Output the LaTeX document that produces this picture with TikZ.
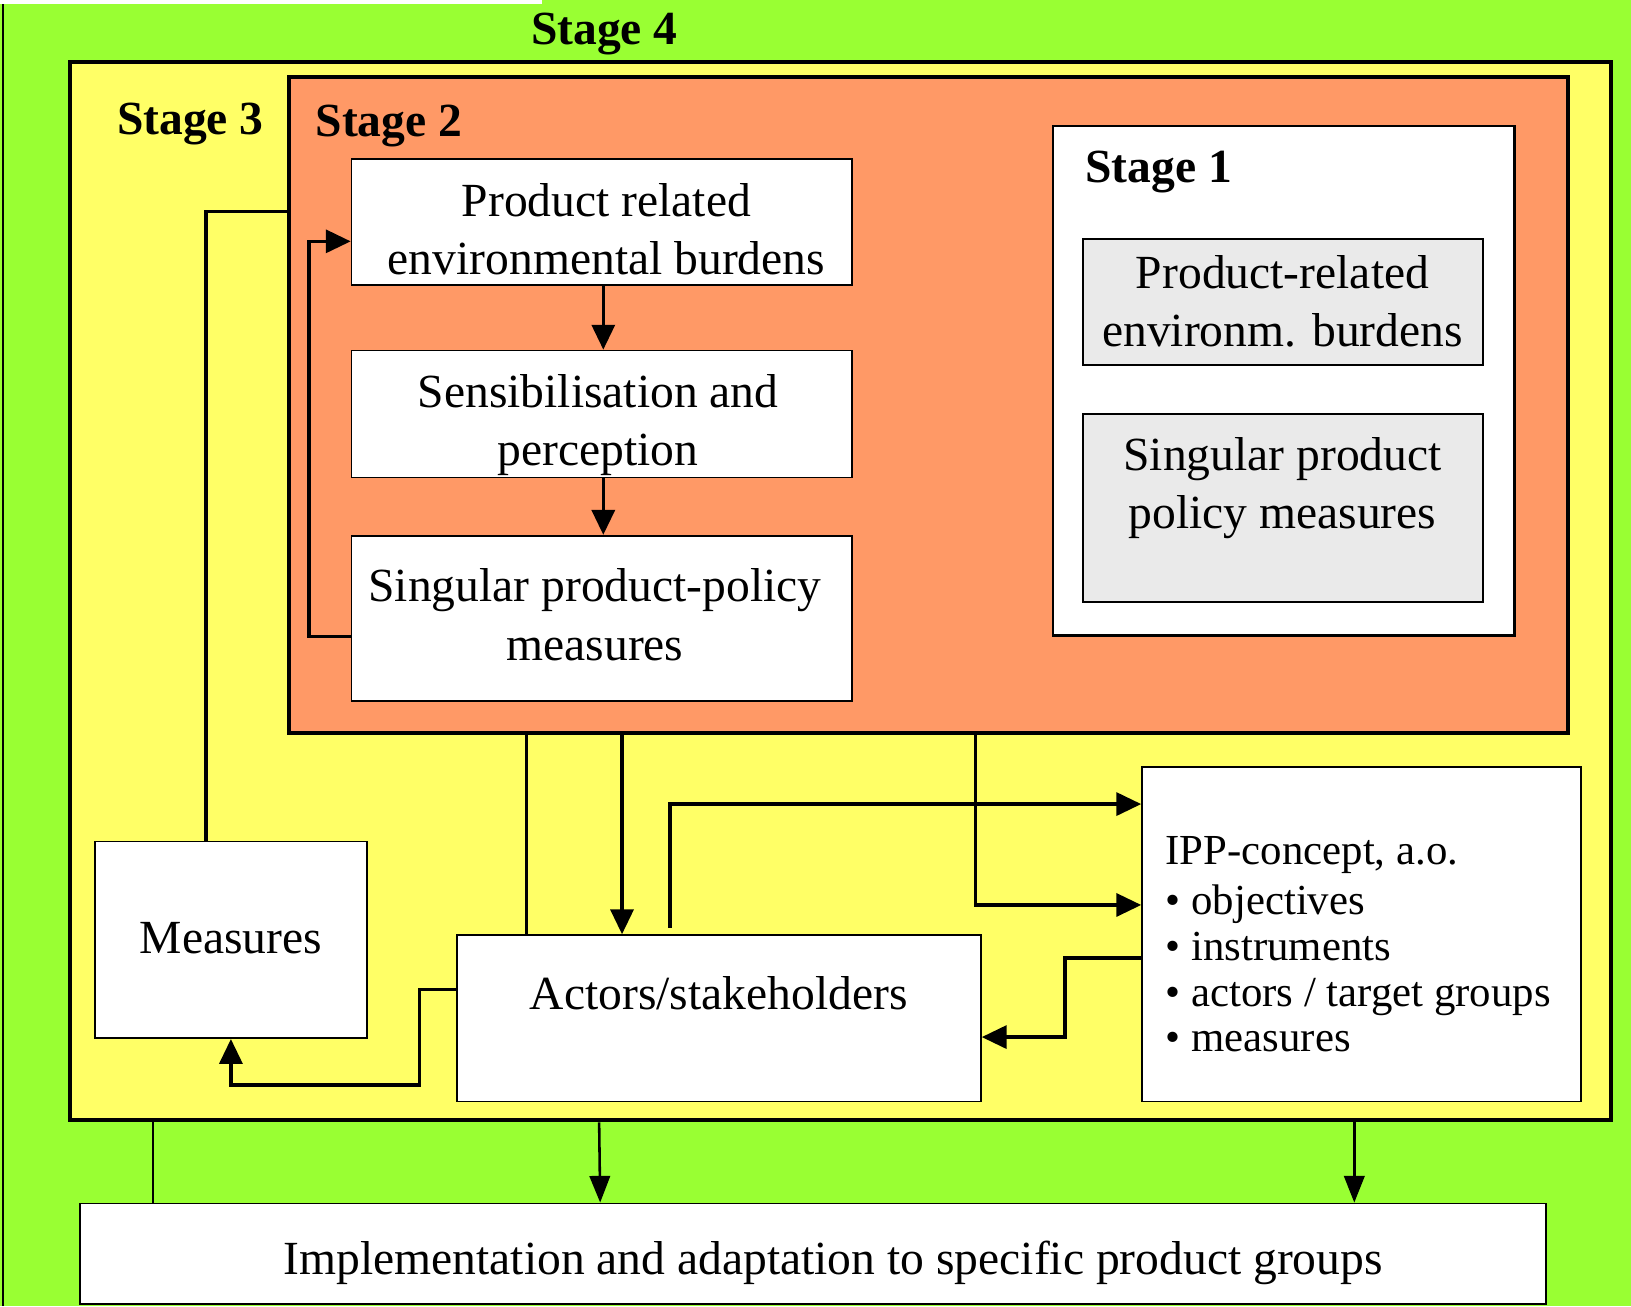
\documentclass[tikz,border=0pt]{standalone}
\usepackage{fontspec}
\setmainfont{Liberation Serif}
\usetikzlibrary{arrows.meta,fit,calc}
\definecolor{cgreen}{HTML}{99FF33}
\definecolor{cyellow}{HTML}{FFFF66}
\definecolor{corange}{HTML}{FF9966}
\definecolor{cgray}{HTML}{EAEAEA}
\begin{document}
\begin{tikzpicture}[x=0.01cm,y=-0.01cm,
  every node/.style={font=\fontsize{13pt}{15.9pt}\selectfont},
  stagebox/.style={draw=black, line width=1.1pt, inner sep=0pt},
  wbox/.style={draw=black, fill=white, line width=0.5pt, inner sep=0pt},
  gbox/.style={draw=black, fill=cgray, line width=0.5pt, inner sep=0pt},
  con/.style={draw=black, line width=0.9pt},
  arr/.style={con, -{Triangle[length=6.8pt,width=6.3pt]}},
  con2/.style={draw=black, line width=0.7pt},
  arr2/.style={con2, -{Triangle[length=7.3pt,width=5.6pt]}},
  stagelbl/.style={font=\fontsize{13pt}{15.9pt}\selectfont\bfseries, inner sep=0pt}
]
\useasboundingbox (0,0) rectangle (1568,1256);
\fill[cgreen] (0,0) rectangle (1568,1256);
\fill[white] (0,0) rectangle (521,4);
\draw[line width=0.6pt] (3,4) -- (3,1256);

% containers
\node[stagebox, fill=cyellow, fit={(67,60) (1549,1077)}] (S3) {};
\node[stagebox, fill=corange, fit={(278,74) (1507,705)}] (S2) {};
\node[wbox, line width=0.6pt, fit={(1012,121) (1456,611)}] (S1) {};

% stage 1 boxes
\node[gbox, fit={(1041,230) (1426,351)}] (G1) {};
\node[gbox, fit={(1041,398) (1426,579)}] (G2) {};
\node[align=center] (G1t) at (1233,290) {Product-related\\environm. burdens};
\node[align=center] (G2t) at (1233,469) {Singular product\\policy measures};

% stage 2 boxes
\node[wbox, fit={(338,153) (819,274)}] (A) {};
\node[wbox, fit={(338,337) (819,459)}] (B) {};
\node[wbox, fit={(338,515) (819,674)}] (C) {};
\node[align=center] (At) at (583,220) {Product related\\environmental burdens};
\node[align=center] (Bt) at (575,409) {Sensibilisation and\\perception};
\node[align=center] (Ct) at (572,591) {Singular product-policy\\measures};

% stage 3 boxes
\node[wbox, fit={(91,809) (353,998)}] (Meas) {};
\node[wbox, fit={(439,899) (943,1059)}] (Act) {};
\node[wbox, fit={(1098,737) (1520,1059)}] (IPP) {};
\node (Meast) at (222,902) {Measures};
\node (Actt) at (691,955) {Actors/stakeholders};
\node[align=left, anchor=west, inner sep=0pt, font=\fontsize{11.7pt}{12.5pt}\selectfont] (IPPt) at (1120,908)
  {IPP-concept, a.o.\\[1.1pt]\textbullet\ objectives\\\textbullet\ instruments\\\textbullet\ actors / target groups\\\textbullet\ measures};

% stage 4 box
\node[wbox, fit={(77,1157) (1486,1254)}] (Impl) {};
\node (Implt) at (801,1214) {Implementation and adaptation to specific product groups};

% stage labels
\node[stagelbl] (L4) at (581,33) {Stage 4};
\node[stagelbl] (L3) at (183,119) {Stage 3};
\node[stagelbl] (L2) at (374,121) {Stage 2};
\node[stagelbl] (L1) at (1114,165) {Stage 1};

% connectors inside stage 2
\draw[arr] (A.south -| 580,0) -- (B.north -| 580,0);
\draw[arr] (B.south -| 580,0) -- (C.north -| 580,0);
\draw[arr] (C.west |- 0,612) -| (297,232) -- (A.west |- 0,232);

% connectors in stage 3
\draw[con] (Meas.north -| 198,0) |- (S2.west |- 0,203);
\draw[con] (S2.south -| 506,0) -- (Act.north -| 506,0);
\draw[arr] (S2.south -| 598,0) -- (Act.north -| 598,0);
\draw[arr] ($(Act.north -| 644,0)+(0,-6)$) |- (IPP.west |- 0,773);
\draw[arr] (S2.south -| 938,0) |- (IPP.west |- 0,870);
\draw[arr] (IPP.west |- 0,921) -| (1024,997) -- (Act.east |- 0,997);
\draw[arr] (Act.west |- 0,951) -| (403,1043) -| (Meas.south -| 222,0);

% connectors to stage 4
\draw[con2] (S3.south -| 147,0) -- (Impl.north -| 147,0);
\draw[arr2] (S3.south -| 576,0) -- (Impl.north -| 577,0);
\draw[arr2] (S3.south -| 1302,0) -- (Impl.north -| 1302,0);
\end{tikzpicture}
\end{document}
